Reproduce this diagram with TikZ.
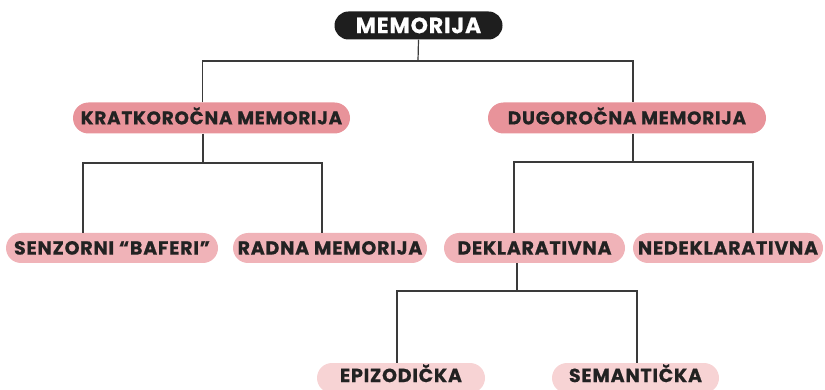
\documentclass[tikz,border=0pt]{standalone}
\usepackage{fontspec}
\setmainfont{Poppins}[BoldFont={* Bold}, BoldFeatures={FakeBold=0.6}]
\usetikzlibrary{shapes.misc}
\definecolor{lineC}{HTML}{3A3A3A}
\definecolor{darkC}{HTML}{1E1E1E}
\definecolor{pinkA}{HTML}{E8939A}
\definecolor{pinkB}{HTML}{F0B3B8}
\definecolor{pinkC}{HTML}{F7D3D4}
\definecolor{textC}{HTML}{222222}
\tikzset{
  box/.style={rounded rectangle, inner sep=0pt, minimum height=30, text=textC,
    text depth=0pt, text height=13.2pt,
    font=\fontsize{19}{19}\selectfont\bfseries\addfontfeatures{LetterSpace=4}},
  lvA/.style={box, fill=pinkA, minimum height=31, text height=12.8pt,
    font=\fontsize{18.4}{18.4}\selectfont\bfseries\addfontfeatures{LetterSpace=4}},
  lvB/.style={box, fill=pinkB},
  lvC/.style={box, fill=pinkC, text depth=5pt},
  top/.style={box, fill=darkC, text=white, minimum height=28, text height=15.3pt,
    font=\fontsize{22}{22}\selectfont\bfseries\addfontfeatures{LetterSpace=4}},
  conn/.style={draw=lineC, line width=1.2pt}
}
\begin{document}
\begin{tikzpicture}[x=1pt,y=-1pt]
\useasboundingbox (0,0) rectangle (825,390);
\node[top, minimum width=168] (mem) at (418.5,25.5) {MEMORIJA};
\node[lvA, minimum width=277] (kr) at (211.5,118) {KRATKOROČNA MEMORIJA};
\node[lvA, minimum width=278] (du) at (627,118) {DUGOROČNA MEMORIJA};
\node[lvB, minimum width=212] (se) at (112,248) {SENZORNI “BAFERI”};
\node[lvB, minimum width=194] (ra) at (330,248) {RADNA MEMORIJA};
\node[lvB, minimum width=181] (de) at (534.5,248) {DEKLARATIVNA};
\node[lvB, minimum width=190] (ne) at (728,248) {NEDEKLARATIVNA};
\node[lvC, minimum width=168] (ep) at (401,378) {EPIZODIČKA};
\node[lvC, minimum width=167] (sm) at (635.5,378) {SEMANTIČKA};
% level 1
\coordinate (j1) at (418,61);
\draw[conn] (mem.south) -- (j1);
\draw[conn] ([xshift=-9]kr.north) |- (j1) -| ([xshift=6]du.north);
% kratkorocna
\coordinate (j2) at (203,163);
\draw[conn] ([xshift=-8.5]kr.south) -- (j2);
\draw[conn] ([xshift=-29]se.north) |- (j2) -| ([xshift=-8]ra.north);
% dugorocna
\coordinate (j3) at (633,162);
\draw[conn] ([xshift=6]du.south) -- (j3);
\draw[conn] ([xshift=-20.5]de.north) |- (j3) -| ([xshift=25]ne.north);
% deklarativna
\coordinate (j4) at (517,291);
\draw[conn] ([xshift=-17.5]de.south) -- (j4);
\draw[conn] ([xshift=-4]ep.north) |- (j4) -| ([xshift=1.5]sm.north);
\end{tikzpicture}
\end{document}
